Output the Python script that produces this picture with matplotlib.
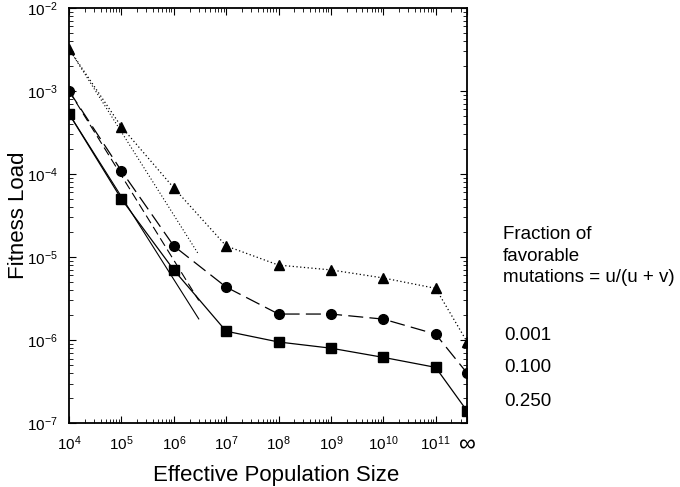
import matplotlib
matplotlib.use('agg')

import matplotlib.pyplot as plt
import numpy as np

plt.rcParams['font.family'] = ['Liberation Sans', 'DejaVu Sans']
plt.rcParams['mathtext.fontset'] = 'custom'
plt.rcParams['mathtext.rm'] = 'Liberation Sans'
plt.rcParams['mathtext.it'] = 'Liberation Sans'
plt.rcParams['mathtext.default'] = 'regular'

# population sizes; the last one stands for infinity, drawn at the right edge
pop_size = [1e4, 1e5, 1e6, 1e7, 1e8, 1e9, 1e10, 1e11, 4e11]
x_ticks = [1e4, 1e5, 1e6, 1e7, 1e8, 1e9, 1e10, 1e11, 4e11]
x_labels = ['$10^{4}$', '$10^{5}$', '$10^{6}$', '$10^{7}$', '$10^{8}$',
            '$10^{9}$', '$10^{10}$', '$10^{11}$', '\u221e']

load_001 = [3.2e-3, 3.7e-4, 6.8e-5, 1.36e-5, 8.0e-6, 7.0e-6, 5.6e-6, 4.2e-6, 9.5e-7]
load_100 = [1.0e-3, 1.09e-4, 1.36e-5, 4.35e-6, 2.06e-6, 2.06e-6, 1.79e-6, 1.18e-6, 4.0e-7]
load_250 = [5.3e-4, 5.0e-5, 7.0e-6, 1.28e-6, 9.5e-7, 8.0e-7, 6.2e-7, 4.7e-7, 1.4e-7]

# small-population asymptotes (slope -1), drawn from 1e4 to about 3e6
asym_x = [1e4, 3e6]
asym_001 = [3.2e-3, 1.07e-5]
asym_100 = [1.0e-3, 3.0e-6]
asym_250 = [5.3e-4, 1.8e-6]

fig = plt.figure(figsize=(6.8, 4.87), dpi=100)
ax = fig.add_axes([0.1015, 0.131, 0.5855, 0.853])

ax.plot(pop_size, load_001, color='black', lw=0.9, ls=(0, (1, 2)),
        marker='^', ms=7)
ax.plot(pop_size, load_100, color='black', lw=0.9, ls=(0, (12, 5)),
        marker='o', ms=7)
ax.plot(pop_size, load_250, color='black', lw=0.9, ls='-',
        marker='s', ms=6.5)

ax.plot(asym_x, asym_001, color='black', lw=0.8, ls=(0, (1, 2)))
ax.plot(asym_x, asym_100, color='black', lw=0.8, ls=(0, (8, 4)))
ax.plot(asym_x, asym_250, color='black', lw=0.8, ls='-')

ax.set_xscale('log')
ax.set_yscale('log')
ax.set_xlim(1e4, 4e11)
ax.set_ylim(1e-7, 1e-2)

ax.set_xticks(x_ticks)
ax.set_xticklabels(x_labels, fontsize=11)
ax.get_xticklabels()[-1].set_fontsize(17)
ax.set_yticks([1e-7, 1e-6, 1e-5, 1e-4, 1e-3, 1e-2])
ax.set_yticklabels(['$10^{-7}$', '$10^{-6}$', '$10^{-5}$', '$10^{-4}$',
                    '$10^{-3}$', '$10^{-2}$'], fontsize=11)
ax.tick_params(which='both', direction='in', top=True, right=True)
ax.tick_params(which='major', length=5, pad=8)
ax.tick_params(which='minor', length=3)
ax.xaxis.set_minor_locator(matplotlib.ticker.LogLocator(base=10, subs=np.arange(2, 10), numticks=20))
ax.yaxis.set_minor_locator(matplotlib.ticker.LogLocator(base=10, subs=np.arange(2, 10), numticks=20))
ax.xaxis.set_minor_formatter(matplotlib.ticker.NullFormatter())
ax.yaxis.set_minor_formatter(matplotlib.ticker.NullFormatter())
for s in ax.spines.values():
    s.set_linewidth(1.3)

ax.set_xlabel('Effective Population Size', fontsize=16)
ax.xaxis.set_label_coords(0.52, -0.1)
ax.set_ylabel('Fitness Load', fontsize=16)
ax.yaxis.set_label_coords(-0.1, 0.5)

fig.text(0.739, 0.535, 'Fraction of\nfavorable\nmutations = u/(u + v)',
         fontsize=13.5, va='top', ha='left', linespacing=1.32)
fig.text(0.742, 0.311, '0.001', fontsize=13.5, va='center')
fig.text(0.742, 0.245, '0.100', fontsize=13.5, va='center')
fig.text(0.742, 0.176, '0.250', fontsize=13.5, va='center')

fig.savefig('out.png', dpi=100)
